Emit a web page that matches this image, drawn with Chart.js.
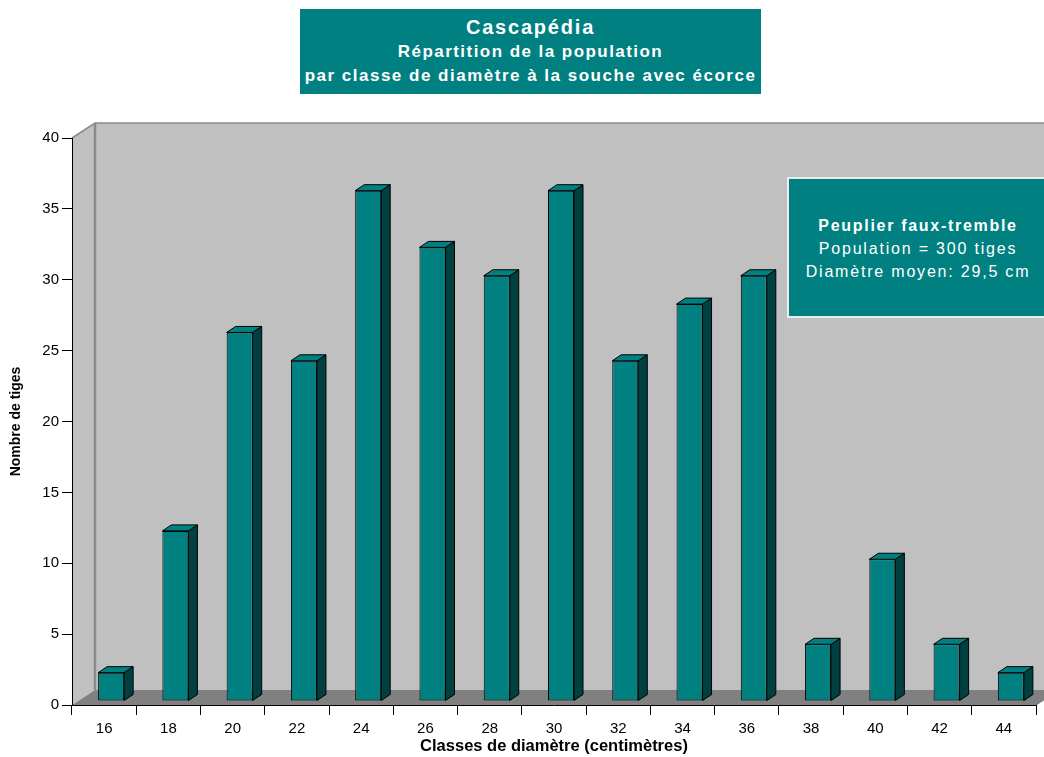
<!DOCTYPE html>
<html lang="fr">
<head>
<meta charset="utf-8">
<title>Cascapédia - répartition par classe de diamètre</title>
<script src="https://cdn.jsdelivr.net/npm/chart.js@4/dist/chart.umd.min.js"></script>
<style>
    html, body {
        margin: 0;
        padding: 0;
        background: #ffffff;
        overflow: hidden;
    }
    #wrap {
        position: relative;
        width: 1044px;
        height: 757px;
        overflow: hidden;
        font-family: 'Liberation Sans', Arial, sans-serif;
    }
    #chart {
        position: absolute;
        left: 0;
        top: 0;
    }
    .title-box {
        position: absolute;
        left: 300px;
        top: 9px;
        width: 461px;
        height: 85px;
        background: #008080;
        color: #ffffff;
        font-weight: bold;
        text-align: center;
        box-sizing: border-box;
        padding-top: 5px;
        white-space: nowrap;
    }
    .title-box .l1 { font-size: 20px; line-height: 26px; letter-spacing: 1.8px; }
    .title-box .l2 { font-size: 17px; line-height: 24px; letter-spacing: 1.45px; }
    .title-box .l3 { font-size: 17px; line-height: 23px; letter-spacing: 1.5px; }
    .info-box {
        position: absolute;
        left: 787px;
        top: 177px;
        width: 262px;
        height: 141px;
        background: #008080;
        border: 2px solid #ececec;
        box-sizing: border-box;
        color: #ffffff;
        text-align: center;
        font-size: 16px;
        line-height: 23px;
        letter-spacing: 1.8px;
        padding-top: 35px;
        white-space: nowrap;
    }
    .info-box .bold { font-weight: bold; letter-spacing: 1.7px; }
</style>
</head>
<body>
<div id="wrap">
    <canvas id="chart" width="1044" height="757"></canvas>
    <div class="title-box">
        <div class="l1">Cascapédia</div>
        <div class="l2">Répartition de la population</div>
        <div class="l3">par classe de diamètre à la souche avec écorce</div>
    </div>
    <div class="info-box">
        <div class="bold">Peuplier faux-tremble</div>
        <div>Population = 300 tiges</div>
        <div>Diamètre moyen: 29,5 cm</div>
    </div>
</div>
<script>
const diameterClasses = ['16', '18', '20', '22', '24', '26', '28', '30', '32', '34', '36', '38', '40', '42', '44'];
const stemCounts = [2, 12, 26, 24, 36, 32, 30, 36, 24, 28, 30, 4, 10, 4, 2];
const yMin = 0;
const yMax = 40;
const yStep = 5;

const FONT = "'Liberation Sans', Arial, sans-serif";
const TEAL = '#008080';
const TEAL_SIDE = '#004040';
const WALL = '#c0c0c0';
const FLOOR = '#808080';
const EDGE = '#8a8a8a';

// depth of the 3D box, and where the bars sit inside it
const DEPTH_X = 23;
const DEPTH_Y = -15;
const BAR_SHIFT_X = 7;
const BAR_SHIFT_Y = -4;
const BAR_DEPTH_X = 9;
const BAR_DEPTH_Y = -6;

const box3d = {
    id: 'box3d',
    beforeDraw(chart) {
        const { ctx, chartArea } = chart;
        const { left, right, top, bottom } = chartArea;
        ctx.save();

        // left side wall
        ctx.fillStyle = WALL;
        ctx.beginPath();
        ctx.moveTo(left, top);
        ctx.lineTo(left + DEPTH_X, top + DEPTH_Y);
        ctx.lineTo(left + DEPTH_X, bottom + DEPTH_Y);
        ctx.lineTo(left, bottom);
        ctx.closePath();
        ctx.fill();

        // back wall
        ctx.fillRect(left + DEPTH_X, top + DEPTH_Y, right - left, bottom - top);

        // floor
        ctx.fillStyle = FLOOR;
        ctx.beginPath();
        ctx.moveTo(left, bottom);
        ctx.lineTo(right, bottom);
        ctx.lineTo(right + DEPTH_X, bottom + DEPTH_Y);
        ctx.lineTo(left + DEPTH_X, bottom + DEPTH_Y);
        ctx.closePath();
        ctx.fill();

        // edges
        ctx.strokeStyle = EDGE;
        ctx.lineWidth = 1.5;
        ctx.beginPath();
        ctx.moveTo(left, top);
        ctx.lineTo(left + DEPTH_X, top + DEPTH_Y);
        ctx.lineTo(right + DEPTH_X, top + DEPTH_Y);
        ctx.stroke();

        ctx.lineWidth = 2.5;
        ctx.beginPath();
        ctx.moveTo(left + DEPTH_X, top + DEPTH_Y);
        ctx.lineTo(left + DEPTH_X, bottom + DEPTH_Y);
        ctx.stroke();

        ctx.lineWidth = 1;
        ctx.strokeStyle = '#6a6a6a';
        ctx.beginPath();
        ctx.moveTo(right, bottom);
        ctx.lineTo(right + DEPTH_X, bottom + DEPTH_Y);
        ctx.stroke();

        ctx.restore();
    },
    beforeDatasetsDraw(chart) {
        chart.ctx.save();
        chart.ctx.translate(BAR_SHIFT_X, BAR_SHIFT_Y);
    },
    afterDatasetsDraw(chart) {
        const { ctx } = chart;
        const meta = chart.getDatasetMeta(0);
        ctx.lineWidth = 1;
        ctx.strokeStyle = '#000000';
        ctx.lineJoin = 'round';
        meta.data.forEach((bar) => {
            const x0 = bar.x - bar.width / 2;
            const x1 = bar.x + bar.width / 2;
            const yt = bar.y;
            const yb = bar.base;

            // right side
            ctx.fillStyle = TEAL_SIDE;
            ctx.beginPath();
            ctx.moveTo(x1, yt);
            ctx.lineTo(x1 + BAR_DEPTH_X, yt + BAR_DEPTH_Y);
            ctx.lineTo(x1 + BAR_DEPTH_X, yb + BAR_DEPTH_Y);
            ctx.lineTo(x1, yb);
            ctx.closePath();
            ctx.fill();
            ctx.stroke();

            // top
            ctx.fillStyle = TEAL;
            ctx.beginPath();
            ctx.moveTo(x0, yt);
            ctx.lineTo(x1, yt);
            ctx.lineTo(x1 + BAR_DEPTH_X, yt + BAR_DEPTH_Y);
            ctx.lineTo(x0 + BAR_DEPTH_X, yt + BAR_DEPTH_Y);
            ctx.closePath();
            ctx.fill();
            ctx.stroke();
        });
        ctx.restore();
    },
};

new Chart(document.getElementById('chart').getContext('2d'), {
    type: 'bar',
    data: {
        labels: diameterClasses,
        datasets: [
            {
                label: 'Nombre de tiges',
                data: stemCounts,
                backgroundColor: TEAL,
                borderColor: '#000000',
                borderWidth: 1,
                borderSkipped: false,
                categoryPercentage: 1,
                barPercentage: 0.405,
            },
        ],
    },
    options: {
        responsive: false,
        animation: false,
        layout: {
            padding: { top: 138, right: 8, left: 0, bottom: 0 },
        },
        plugins: {
            legend: { display: false },
            tooltip: { enabled: false },
        },
        scales: {
            x: {
                grid: {
                    offset: true,
                    drawOnChartArea: false,
                    color: '#000000',
                    tickLength: 10,
                },
                border: { color: '#000000', width: 1 },
                ticks: {
                    color: '#000000',
                    padding: 5,
                    maxRotation: 0,
                    font: { family: FONT, size: 15 },
                },
                title: {
                    display: true,
                    text: 'Classes de diamètre (centimètres)',
                    color: '#000000',
                    font: { family: FONT, size: 16.5, weight: 'bold' },
                    padding: { top: 0, bottom: 1 },
                },
                afterFit(scale) {
                    scale.height = 52;
                },
            },
            y: {
                min: yMin,
                max: yMax,
                grid: {
                    drawOnChartArea: false,
                    color: '#000000',
                    tickLength: 10,
                },
                border: { color: '#000000', width: 1 },
                ticks: {
                    stepSize: yStep,
                    color: '#000000',
                    padding: 3,
                    font: { family: FONT, size: 15 },
                },
                title: {
                    display: true,
                    text: 'Nombre de tiges',
                    color: '#000000',
                    font: { family: FONT, size: 14, weight: 'bold' },
                    padding: { top: 8, bottom: 0 },
                },
                afterFit(scale) {
                    scale.width = 72;
                },
            },
        },
    },
    plugins: [box3d],
});
</script>
</body>
</html>
